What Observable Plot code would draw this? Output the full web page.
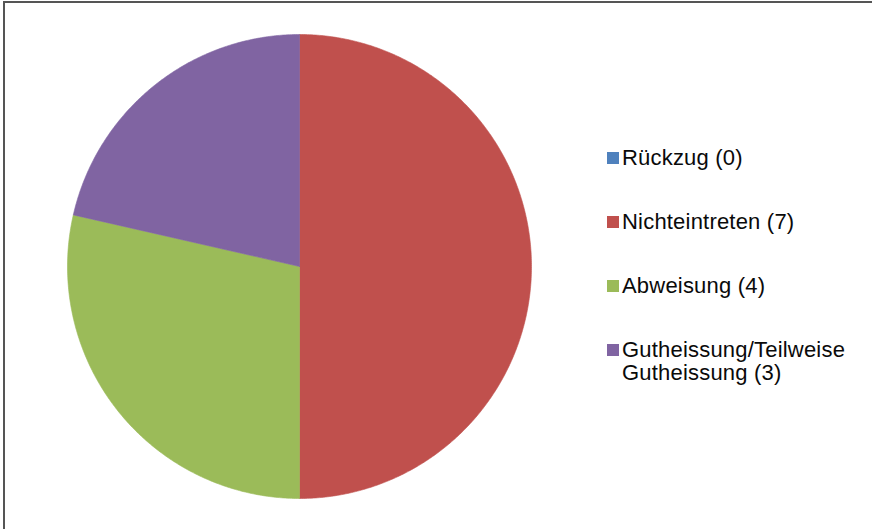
<!DOCTYPE html>
<html>
<head>
<meta charset="utf-8">
<script src="https://cdn.jsdelivr.net/npm/d3@7"></script>
<script src="https://cdn.jsdelivr.net/npm/@observablehq/plot@0.6"></script>
<style>
  html, body { margin: 0; padding: 0; background: #fff; }
  body { width: 872px; height: 529px; position: relative; overflow: hidden; font-family: "Liberation Sans", Arial, sans-serif; }
  #frame { position: absolute; left: 3px; top: 1px; right: -10px; bottom: -10px; border-left: 2px solid #555; border-top: 2px solid #555; pointer-events: none; }
  #chart { position: absolute; left: 0; top: 0; }
  #legend { position: absolute; left: 607px; top: 146px; }
  .item { display: flex; align-items: flex-start; margin-bottom: 41px; }
  .sw { width: 12px; height: 12px; margin-top: 5.5px; flex: none; }
  .lab { margin-left: 3px; font-size: 22px; line-height: 23px; letter-spacing: 0.2px; color: #0a0a0a; width: 250px; }
</style>
</head>
<body>
<div id="chart"></div>
<div id="legend"></div>
<div id="frame"></div>
<script>
const categories = ["Rückzug", "Nichteintreten", "Abweisung", "Gutheissung/Teilweise Gutheissung"];
const values = [0, 7, 4, 3];
const colors = ["#4F81BD", "#C0504D", "#9BBB59", "#8064A2"];

const data = categories.map((c, i) => ({category: c, value: values[i]}));
const arcs = d3.pie().sort(null).value(d => d.value).startAngle(0).endAngle(2 * Math.PI)(data);

// build slice outlines (unit circle) from the pie angles
const pts = [];
for (const a of arcs) {
  if (a.endAngle - a.startAngle <= 0) continue;
  const cat = a.data.category;
  pts.push({category: cat, x: 0, y: 0});
  const n = Math.max(2, Math.ceil((a.endAngle - a.startAngle) / (Math.PI / 360)));
  for (let k = 0; k <= n; k++) {
    const t = a.startAngle + (a.endAngle - a.startAngle) * k / n;
    pts.push({category: cat, x: Math.sin(t), y: Math.cos(t)});
  }
  pts.push({category: cat, x: 0, y: 0});
}

const plot = Plot.plot({
  width: 872,
  height: 529,
  marginLeft: 67,
  marginRight: 341,
  marginTop: 34,
  marginBottom: 31,
  x: {domain: [-1, 1], axis: null},
  y: {domain: [-1, 1], axis: null},
  color: {domain: categories, range: colors},
  marks: [
    Plot.line(pts, {x: "x", y: "y", z: "category", fill: "category", stroke: "category", strokeWidth: 0.6, curve: "linear"})
  ]
});
document.getElementById("chart").appendChild(plot);

const legend = document.getElementById("legend");
categories.forEach((c, i) => {
  const item = document.createElement("div");
  item.className = "item";
  const sw = document.createElement("div");
  sw.className = "sw";
  sw.style.background = colors[i];
  const lab = document.createElement("div");
  lab.className = "lab";
  lab.textContent = `${c} (${values[i]})`;
  item.appendChild(sw);
  item.appendChild(lab);
  legend.appendChild(item);
});
</script>
</body>
</html>
